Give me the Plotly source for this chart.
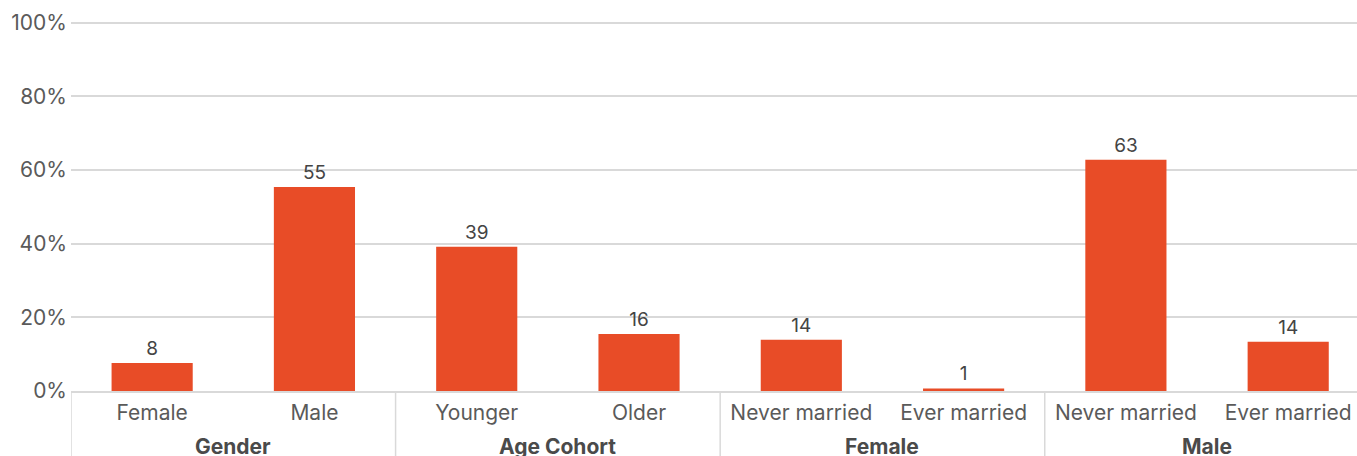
import plotly.graph_objects as go

groups = ["Gender", "Gender", "Age Cohort", "Age Cohort", "Female", "Female", "Male", "Male"]
categories = ["Female", "Male", "Younger", "Older", "Never married", "Ever married", "Never married", "Ever married"]
values = [7.6, 55.4, 39.2, 15.5, 13.9, 0.7, 62.8, 13.4]
labels = ["8", "55", "39", "16", "14", "1", "63", "14"]
y_ticks = [0, 20, 40, 60, 80, 100]
y_tick_text = ["0%", "20%", "40%", "60%", "80%", "100%"]

FONT = "Inter"
GRAY = "#5a5a5a"
LINE = "#d9d9d9"

idx = list(range(len(categories)))

fig = go.Figure(go.Bar(
    x=idx,
    y=values,
    text=labels,
    textposition="outside",
    textfont=dict(family=FONT, size=19, color="#444444"),
    marker=dict(color="#E84C27", line=dict(width=0)),
    cliponaxis=False,
))

# group spans (derived from the groups list)
spans = []
start = 0
for i in range(1, len(groups) + 1):
    if i == len(groups) or groups[i] != groups[start]:
        spans.append((groups[start], start, i - 1))
        start = i

for name, a, b in spans:
    fig.add_annotation(
        x=(a + b) / 2, xref="x", y=-0.15, yref="paper",
        text=f"<b>{name}</b>", showarrow=False, yanchor="middle",
        font=dict(family=FONT, size=21, color="#4a4a4a"),
    )
    fig.add_shape(
        type="line", xref="x", yref="paper",
        x0=a - 0.5, x1=a - 0.5, y0=0, y1=-0.25,
        line=dict(color=LINE, width=1.5), layer="below",
    )

fig.update_layout(
    width=1357, height=456,
    margin=dict(l=71, r=0, t=21, b=65, autoexpand=False),
    paper_bgcolor="white", plot_bgcolor="white",
    bargap=0.5,
    showlegend=False,
    font=dict(family=FONT, color=GRAY, size=21),
)
fig.update_yaxes(
    range=[0, 100.5], tickvals=y_ticks, ticktext=y_tick_text,
    showgrid=True, gridcolor=LINE, gridwidth=1.5,
    zeroline=False, showline=False, ticks="", ticklen=0,
    ticklabelstandoff=3,
    tickfont=dict(family=FONT, size=21, color=GRAY),
    automargin=False,
)
fig.update_xaxes(
    range=[-0.5, 7.424],
    tickvals=idx, ticktext=categories,
    showgrid=False, zeroline=False,
    showline=True, linecolor=LINE, linewidth=1.5,
    ticks="outside", ticklen=2, tickcolor="rgba(0,0,0,0)",
    tickfont=dict(family=FONT, size=21, color=GRAY),
    automargin=False,
)

fig.write_html("out.html")
